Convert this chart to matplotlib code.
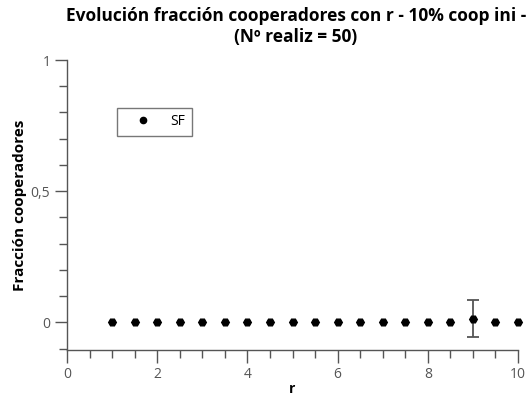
import matplotlib
matplotlib.use("Agg")
import matplotlib.pyplot as plt
from matplotlib.lines import Line2D
from matplotlib.ticker import MultipleLocator, FuncFormatter

r_values = [1, 1.5, 2, 2.5, 3, 3.5, 4, 4.5, 5, 5.5, 6, 6.5, 7, 7.5, 8, 8.5, 9, 9.5, 10]
frac_coop = [0, 0, 0, 0, 0, 0, 0, 0, 0, 0, 0, 0, 0, 0, 0, 0, 0.014, 0, 0]
frac_err = [0, 0, 0, 0, 0, 0, 0, 0, 0, 0, 0, 0, 0, 0, 0, 0, 0.07, 0, 0]
series_label = "SF"

plt.rcParams['font.family'] = ['Open Sans', 'DejaVu Sans']

fig = plt.figure(figsize=(5.28, 3.96), dpi=100)
ax = fig.add_axes([67 / 528, 1 - 350 / 396, (518 - 67) / 528, (350 - 60) / 396])

# error bars only where there is spread
eb_x = [x for x, e in zip(r_values, frac_err) if e > 0]
eb_y = [y for y, e in zip(frac_coop, frac_err) if e > 0]
eb_e = [e for e in frac_err if e > 0]
ax.errorbar(eb_x, eb_y, yerr=eb_e, fmt='none', ecolor='#555555',
            elinewidth=1.3, capsize=4.5, capthick=1.3, zorder=2)
ax.plot(r_values, frac_coop, 'H', color='black', markersize=5.5,
        linestyle='none', zorder=3, clip_on=False)

ax.set_xlim(0, 10)
ax.set_ylim(-0.105, 1.0)

for s in ['top', 'right']:
    ax.spines[s].set_visible(False)
for s in ['left', 'bottom']:
    ax.spines[s].set_color('#555555')
    ax.spines[s].set_linewidth(1.0)

ax.xaxis.set_major_locator(MultipleLocator(2))
ax.xaxis.set_minor_locator(MultipleLocator(0.5))
ax.yaxis.set_major_locator(MultipleLocator(0.5))
ax.yaxis.set_minor_locator(MultipleLocator(0.1))
ax.yaxis.set_major_formatter(FuncFormatter(lambda v, p: f"{v:g}".replace('.', ',')))

ax.tick_params(axis='both', which='major', length=9, width=1, color='#555555',
               labelcolor='#555555', labelsize=10, pad=3)
ax.tick_params(axis='both', which='minor', length=6, width=1, color='#555555')

ax.set_xlabel('r', fontsize=10, fontweight='bold', labelpad=0)
ax.set_ylabel('Fracción cooperadores', fontsize=11, fontweight='bold', labelpad=3)
ax.set_title('Evolución fracción cooperadores con r - 10% coop ini -\n(Nº realiz = 50)',
             fontsize=12.5, fontweight='bold', linespacing=1.2, pad=13, x=0.507)

handle = Line2D([], [], marker='o', color='black', markersize=4.5, linestyle='none')
leg = ax.legend([handle], [series_label], loc='upper left',
                bbox_to_anchor=((117 - 67) / 451, 1 - (108 - 60) / 290),
                borderaxespad=0, fancybox=False, edgecolor='#555555', fontsize=10,
                handletextpad=0.6, borderpad=0.45, handlelength=2.8)
leg.get_frame().set_linewidth(1.0)

fig.savefig('out.png', dpi=100)
